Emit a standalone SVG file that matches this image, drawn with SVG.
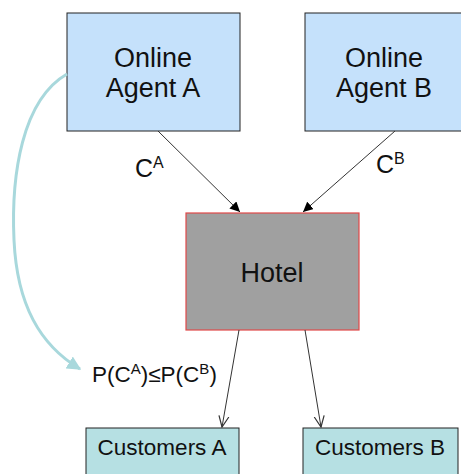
<svg xmlns="http://www.w3.org/2000/svg" width="461" height="474" viewBox="0 0 461 474">
<defs>
<marker id="fill" viewBox="0 0 10 10" refX="10" refY="5" markerWidth="10" markerHeight="10" markerUnits="userSpaceOnUse" orient="auto"><path d="M0,0 L10,5 L0,10 z" fill="#000"/></marker>
<marker id="open" viewBox="0 0 12 12" refX="11" refY="6" markerWidth="12" markerHeight="12" markerUnits="userSpaceOnUse" orient="auto"><path d="M0,1 L11,6 L0,11" fill="none" stroke="#333" stroke-width="1.2"/></marker>
<marker id="teal" viewBox="0 0 10 10" refX="9" refY="5" markerWidth="14" markerHeight="14" markerUnits="userSpaceOnUse" orient="auto"><path d="M0,0 L10,5 L0,10 z" fill="#a8d8dc"/></marker>
</defs>
<style>
text{font-family:"Liberation Sans",Arial,sans-serif;fill:#111}
.agent{fill:#c5e1fb;stroke:#222;stroke-width:1}
.cust{fill:#b6e0e3;stroke:#222;stroke-width:1}
.big{font-size:27px;text-anchor:middle}
.mid{font-size:22.5px;text-anchor:middle}
.conn{stroke:#333;stroke-width:1;fill:none}
</style>
<rect width="461" height="474" fill="#fff"/>
<g id="agentA"><rect class="agent" x="67" y="13" width="173" height="118"/><text class="big" x="153" y="67">Online</text><text class="big" x="153" y="97">Agent A</text></g>
<g id="agentB"><rect class="agent" x="305" y="13" width="160" height="118"/><text class="big" x="384" y="67">Online</text><text class="big" x="384" y="97">Agent B</text></g>
<g id="hotel"><rect x="186" y="213" width="173" height="117" fill="#a0a0a0" stroke="#e04848" stroke-width="1.2"/><text class="big" x="272" y="282" font-size="28">Hotel</text></g>
<g id="custA"><rect class="cust" x="86" y="428" width="153" height="50"/><text class="mid" x="162" y="455">Customers A</text></g>
<g id="custB"><rect class="cust" x="303" y="428" width="155" height="50"/><text class="mid" x="380" y="455">Customers B</text></g>
<g id="connectors">
<line class="conn" x1="158" y1="131" x2="240" y2="212" marker-end="url(#fill)"/>
<line class="conn" x1="395" y1="131" x2="303" y2="212" marker-end="url(#fill)"/>
<line class="conn" x1="239" y1="330" x2="222" y2="427" marker-end="url(#open)"/>
<line class="conn" x1="305" y1="330" x2="321" y2="427" marker-end="url(#open)"/>
<path d="M67,74 C22,100 11,175 14,240 C17,305 40,345 80,369" fill="none" stroke="#a8d8dc" stroke-width="3" marker-end="url(#teal)"/>
</g>
<g id="labels">
<text x="135" y="177" font-size="25">C<tspan font-size="16" dy="-9">A</tspan></text>
<text x="376" y="173" font-size="25">C<tspan font-size="16" dy="-9">B</tspan></text>
<text x="92" y="382" font-size="22.5">P(C<tspan font-size="15" dy="-8">A</tspan><tspan dy="8">)≤P(C</tspan><tspan font-size="15" dy="-8">B</tspan><tspan dy="8">)</tspan></text>
</g>
</svg>
